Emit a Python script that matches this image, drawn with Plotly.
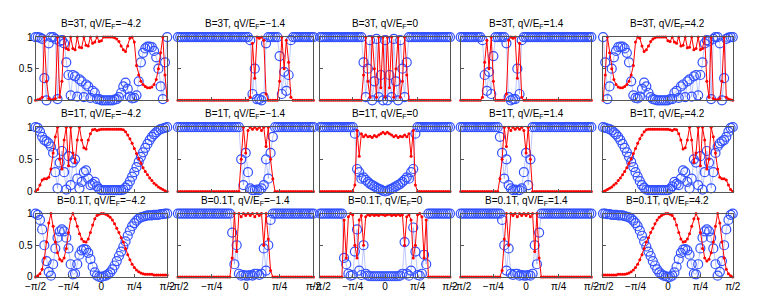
import plotly.graph_objects as go

# ---------------- data (angle in degrees) ----------------
angle_deg = [-90, -87, -84, -81, -78, -75, -72, -69, -66, -63,
             -60, -57, -54, -51, -48, -45, -42, -39, -36, -33,
             -30, -27, -24, -21, -18, -15, -12, -9, -6, -3,
             0, 3, 6, 9, 12, 15, 18, 21, 24, 27,
             30, 33, 36, 39, 42, 45, 48, 51, 54, 57,
             60, 63, 66, 69, 72, 75, 78, 81, 84, 87,
             90]

field_labels = ["3T", "1T", "0.1T"]
bias_labels = ["\u22124.2", "\u22121.4", "0", "1.4", "4.2"]
tick_vals = [-90, -45, 0, 45, 90]
tick_text = ["\u2212\u03c0/2", "\u2212\u03c0/4", "0", "\u03c0/4", "\u03c0/2"]

# B = 3T
red_3T_m42 = [0, .01, .02, .05, 1.0, .3, .03, .01, .01, .03,
              1.0, .05, .3, 1.0, .82, .8, 1.0, .82, .8, 1.0,
              .84, .83, 1.0, .87, .86, 1.0, .9, .92, 1.0, .93,
              .94, 1.0, 1.0, 1.0, 1.0, 1.0, .99, .97, .93, .86,
              .8, .77, .86, .98, 1.0, .92, .55, .4, .3, .25,
              .22, .2, .2, .21, .25, .33, .5, .75, 1.0, .4,
              0]
blue_3T_m42 = [1, 1, .99, .97, .35, 0, .9, 1, 1, .97,
               .02, .93, .95, .9, .6, .4, .08, .4, .38, .06,
               .33, .3, .05, .25, .22, .04, .15, .12, .02, .02,
               0, 0, 0, 0, 0, 0, .01, .02, .05, .12,
               .22, .28, .18, .06, .03, .04, .08, .3, .6, .75,
               .82, .85, .85, .84, .78, .68, .5, .22, .02, .6,
               1]
red_3T_m14 = [0, 0, 0, 0, 0, 0, 0, 0, 0, 0,
              0, 0, 0, 0, 0, 0, 0, 0, 0, 0,
              0, 0, 0, 0, 0, 0, 0, 0, 0, 0,
              0, 0, .05, .9, .35, 1.0, .98, 1.0, .95, .1,
              0, 0, 0, 0, 0, .3, 1.0, .5, .95, .6,
              .05, 0, 0, 0, 0, 0, 0, 0, 0, 0,
              0]
blue_3T_m14 = [1, 1, 1, 1, 1, 1, 1, 1, 1, 1,
               1, 1, 1, 1, 1, 1, 1, 1, 1, 1,
               1, 1, 1, 1, 1, 1, 1, 1, 1, 1,
               1, 1, .95, .1, .5, .02, .02, 0, .05, .9,
               1, 1, 1, 1, 1, .7, .1, .45, .15, .4,
               .95, 1, 1, 1, 1, 1, 1, 1, 1, 1,
               1]
red_3T_0 = [0, 0, 0, 0, 0, 0, 0, 0, 0, 0,
            0, 0, 0, 0, 0, 0, 0, 0, 0, 0,
            .4, 1.0, .3, .05, 1.0, .5, .05, 1.0, .2, 1.0,
            .05, 1.0, .2, 1.0, .05, .5, 1.0, .05, .3, 1.0,
            .4, 0, 0, 0, 0, 0, 0, 0, 0, 0,
            0, 0, 0, 0, 0, 0, 0, 0, 0, 0,
            0]
blue_3T_0 = [1, 1, 1, 1, 1, 1, 1, 1, 1, 1,
             1, 1, 1, 1, 1, 1, 1, 1, 1, 1,
             .6, .05, .5, .95, 0, .3, .97, .05, .4, 0,
             .95, 0, .4, .05, .97, .3, 0, .95, .5, .05,
             .6, 1, 1, 1, 1, 1, 1, 1, 1, 1,
             1, 1, 1, 1, 1, 1, 1, 1, 1, 1,
             1]
red_3T_p14 = [0, 0, 0, 0, 0, 0, 0, 0, 0, 0,
              .05, .6, .95, .5, 1.0, .3, 0, 0, 0, 0,
              0, .1, .95, 1.0, .98, 1.0, .35, .9, .05, 0,
              0, 0, 0, 0, 0, 0, 0, 0, 0, 0,
              0, 0, 0, 0, 0, 0, 0, 0, 0, 0,
              0, 0, 0, 0, 0, 0, 0, 0, 0, 0,
              0]
blue_3T_p14 = [1, 1, 1, 1, 1, 1, 1, 1, 1, 1,
               .95, .4, .15, .45, .1, .7, 1, 1, 1, 1,
               1, .9, .05, 0, .02, .02, .5, .1, .95, 1,
               1, 1, 1, 1, 1, 1, 1, 1, 1, 1,
               1, 1, 1, 1, 1, 1, 1, 1, 1, 1,
               1, 1, 1, 1, 1, 1, 1, 1, 1, 1,
               1]
red_3T_p42 = [0, .4, 1.0, .75, .5, .33, .25, .21, .2, .2,
              .22, .25, .3, .4, .55, .92, 1.0, .98, .86, .77,
              .8, .86, .93, .97, .99, 1.0, 1.0, 1.0, 1.0, 1.0,
              .94, .93, 1.0, .92, .9, 1.0, .86, .87, 1.0, .83,
              .84, 1.0, .8, .82, 1.0, .8, .82, 1.0, .3, .05,
              1.0, .03, .01, .01, .03, .3, 1.0, .05, .02, .01,
              0]
blue_3T_p42 = [1, .6, .02, .22, .5, .68, .78, .84, .85, .85,
               .82, .75, .6, .3, .08, .04, .03, .06, .18, .28,
               .22, .12, .05, .02, .01, 0, 0, 0, 0, 0,
               0, .02, .02, .12, .15, .04, .22, .25, .05, .3,
               .33, .06, .38, .4, .08, .4, .6, .9, .95, .93,
               .02, .97, 1, 1, .9, 0, .35, .97, .99, 1,
               1]

# B = 1T
red_1T_m42 = [0, .03, .1, .18, .2, .2, .22, .35, .6, .85,
              1.0, .5, .35, .8, 1.0, .4, 1.0, .6, .45, .8,
              1.0, .8, .68, .66, .8, .9, .96, .97, .95, .96,
              .97, .97, .97, .97, .97, .97, .97, .97, .97, .97,
              .96, .93, .88, .82, .75, .67, .59, .51, .44, .37,
              .31, .26, .21, .17, .13, .1, .07, .05, .03, .01,
              0]
blue_1T_m42 = [1, .99, .93, .85, .8, .78, .75, .7, .6, .3,
               .05, .45, .63, .3, .03, .55, .1, .45, .5, .2,
               .05, .15, .3, .33, .2, .1, .12, .15, .08, .04,
               .02, .02, .02, .02, .02, .02, .02, .02, .02, .02,
               .03, .06, .1, .16, .23, .3, .38, .46, .54, .61,
               .68, .74, .8, .85, .89, .92, .95, .97, .98, .99,
               1]
red_1T_m14 = [0, 0, 0, 0, 0, 0, 0, 0, 0, 0,
              0, 0, 0, 0, 0, 0, 0, 0, 0, 0,
              0, 0, 0, 0, 0, 0, 0, 0, .5, 1.0,
              .6, .95, 1.0, .97, 1.0, .97, 1.0, .95, 1.0, .7,
              1.0, .5, .2, 0, 0, 0, 0, 0, 0, 0,
              0, 0, 0, 0, 0, 0, 0, 0, 0, 0,
              0]
blue_1T_m14 = [1, 1, 1, 1, 1, 1, 1, 1, 1, 1,
               1, 1, 1, 1, 1, 1, 1, 1, 1, 1,
               1, 1, 1, 1, 1, 1, 1, 1, .5, .1,
               .6, .3, .05, .02, .02, .03, .02, .05, .1, .5,
               .2, .6, .85, 1, 1, 1, 1, 1, 1, 1,
               1, 1, 1, 1, 1, 1, 1, 1, 1, 1,
               1]
red_1T_0 = [0, 0, 0, 0, 0, 0, 0, 0, 0, 0,
            0, 0, 0, 0, 0, 0, .1, .95, .55, .9,
            .85, .88, .85, .86, .84, .87, .85, .88, .9, .92,
            .9, .92, .9, .88, .85, .87, .84, .86, .85, .88,
            .85, .9, .55, .95, .1, 0, 0, 0, 0, 0,
            0, 0, 0, 0, 0, 0, 0, 0, 0, 0,
            0]
blue_1T_0 = [1, 1, 1, 1, 1, 1, 1, 1, 1, 1,
             1, 1, 1, 1, 1, 1, .9, .35, .3, .2,
             .22, .18, .15, .12, .1, .08, .06, .04, .03, .01,
             0, .01, .03, .04, .06, .08, .1, .12, .15, .18,
             .22, .2, .3, .35, .9, 1, 1, 1, 1, 1,
             1, 1, 1, 1, 1, 1, 1, 1, 1, 1,
             1]
red_1T_p14 = [0, 0, 0, 0, 0, 0, 0, 0, 0, 0,
              0, 0, 0, 0, 0, 0, 0, 0, .2, .5,
              1.0, .7, 1.0, .95, 1.0, .97, 1.0, .97, 1.0, .95,
              .6, 1.0, .5, 0, 0, 0, 0, 0, 0, 0,
              0, 0, 0, 0, 0, 0, 0, 0, 0, 0,
              0, 0, 0, 0, 0, 0, 0, 0, 0, 0,
              0]
blue_1T_p14 = [1, 1, 1, 1, 1, 1, 1, 1, 1, 1,
               1, 1, 1, 1, 1, 1, 1, 1, .85, .6,
               .2, .5, .1, .05, .02, .03, .02, .02, .05, .3,
               .6, .1, .5, 1, 1, 1, 1, 1, 1, 1,
               1, 1, 1, 1, 1, 1, 1, 1, 1, 1,
               1, 1, 1, 1, 1, 1, 1, 1, 1, 1,
               1]
red_1T_p42 = [0, .01, .03, .05, .07, .1, .13, .17, .21, .26,
              .31, .37, .44, .51, .59, .67, .75, .82, .88, .93,
              .96, .97, .97, .97, .97, .97, .97, .97, .97, .97,
              .97, .96, .95, .97, .96, .9, .8, .66, .68, .8,
              1.0, .8, .45, .6, 1.0, .4, 1.0, .8, .35, .5,
              1.0, .85, .6, .35, .22, .2, .2, .18, .1, .03,
              0]
blue_1T_p42 = [1, .99, .98, .97, .95, .92, .89, .85, .8, .74,
               .68, .61, .54, .46, .38, .3, .23, .16, .1, .06,
               .03, .02, .02, .02, .02, .02, .02, .02, .02, .02,
               .02, .04, .08, .15, .12, .1, .2, .33, .3, .15,
               .05, .2, .5, .45, .1, .55, .03, .3, .63, .45,
               .05, .3, .6, .7, .75, .78, .8, .85, .93, .99,
               1]

# B = 0.1T
red_01T_m42 = [0, .02, .05, .12, .3, .55, .85, 1.0, .8, .55,
               .38, .28, .25, .3, .45, .7, .92, 1.0, .92, .8,
               .68, .6, .56, .55, .6, .7, .82, .92, .97, .99,
               1.0, 1.0, .99, .97, .94, .9, .84, .77, .7, .62,
               .55, .45, .35, .27, .2, .15, .11, .08, .06, .05,
               .04, .04, .04, .04, .03, .03, .03, .03, .03, .03,
               .03]
blue_01T_m42 = [1, .98, .9, .75, .5, .25, .08, .02, .2, .45,
                .62, .72, .75, .72, .62, .45, .2, .04, .05, .2,
                .35, .42, .44, .43, .38, .28, .16, .07, .02, 0,
                0, .01, .02, .04, .07, .12, .18, .25, .33, .4,
                .48, .56, .65, .73, .8, .85, .89, .92, .94, .95,
                .96, .97, .97, .97, .98, .98, .98, .99, .99, 1,
                1]
red_01T_m14 = [0, 0, 0, 0, 0, 0, 0, 0, 0, 0,
               0, 0, 0, 0, 0, 0, 0, 0, 0, 0,
               0, 0, 0, 0, .3, 1.0, .4, 1.0, .95, 1.0,
               .97, 1.0, .97, 1.0, .95, 1.0, .97, 1.0, .5, 1.0,
               .6, .1, 0, 0, 0, 0, 0, 0, 0, 0,
               0, 0, 0, 0, 0, 0, 0, 0, 0, 0,
               0]
blue_01T_m14 = [1, 1, 1, 1, 1, 1, 1, 1, 1, 1,
                1, 1, 1, 1, 1, 1, 1, 1, 1, 1,
                1, 1, 1, 1, .7, .2, .5, .05, .02, .03,
                .02, .02, .03, .02, .05, .05, .03, .05, .45, .1,
                .5, .9, 1, 1, 1, 1, 1, 1, 1, 1,
                1, 1, 1, 1, 1, 1, 1, 1, 1, 1,
                1]
red_01T_0 = [0, 0, 0, 0, 0, 0, 0, 0, 0, 0,
             0, .9, .3, .95, 1.0, .98, .5, .3, .9, .97,
             .5, .95, .98, .97, .99, .97, .98, .97, .99, .98,
             .97, .98, .99, .97, .98, .97, .99, .97, .98, .5,
             .95, .98, .9, .3, .5, .98, 1.0, .95, .3, .9,
             0, 0, 0, 0, 0, 0, 0, 0, 0, 0,
             0]
blue_01T_0 = [1, 1, 1, 1, 1, 1, 1, 1, 1, 1,
              1, .3, .2, .05, .02, .03, .4, .75, .1, .03,
              .5, .05, .02, .01, .01, .01, .01, .01, .01, .01,
              .01, .01, .01, .01, .01, .01, .01, .02, .05, .55,
              .05, .02, .1, .78, .4, .03, .02, .05, .35, .2,
              1, 1, 1, 1, 1, 1, 1, 1, 1, 1,
              1]
red_01T_p14 = [0, 0, 0, 0, 0, 0, 0, 0, 0, 0,
               0, 0, 0, 0, 0, 0, 0, 0, 0, .1,
               .6, 1.0, .5, 1.0, .97, 1.0, .95, 1.0, .97, 1.0,
               .97, 1.0, .95, 1.0, .4, 1.0, .3, 0, 0, 0,
               0, 0, 0, 0, 0, 0, 0, 0, 0, 0,
               0, 0, 0, 0, 0, 0, 0, 0, 0, 0,
               0]
blue_01T_p14 = [1, 1, 1, 1, 1, 1, 1, 1, 1, 1,
                1, 1, 1, 1, 1, 1, 1, 1, 1, .9,
                .5, .1, .45, .05, .03, .05, .05, .02, .03, .02,
                .02, .03, .02, .05, .5, .2, .7, 1, 1, 1,
                1, 1, 1, 1, 1, 1, 1, 1, 1, 1,
                1, 1, 1, 1, 1, 1, 1, 1, 1, 1,
                1]
red_01T_p42 = [.03, .03, .03, .03, .03, .03, .03, .04, .04, .04,
               .04, .05, .06, .08, .11, .15, .2, .27, .35, .45,
               .55, .62, .7, .77, .84, .9, .94, .97, .99, 1.0,
               1.0, .99, .97, .92, .82, .7, .6, .55, .56, .6,
               .68, .8, .92, 1.0, .92, .7, .45, .3, .25, .28,
               .38, .55, .8, 1.0, .85, .55, .3, .12, .05, .02,
               0]
blue_01T_p42 = [1, 1, .99, .99, .98, .98, .98, .97, .97, .97,
                .96, .95, .94, .92, .89, .85, .8, .73, .65, .56,
                .48, .4, .33, .25, .18, .12, .07, .04, .02, .01,
                0, 0, .02, .07, .16, .28, .38, .43, .44, .42,
                .35, .2, .05, .04, .2, .45, .62, .72, .75, .72,
                .62, .45, .2, .02, .08, .25, .5, .75, .9, .98,
                1]

panel_data = [
    [(red_3T_m42, blue_3T_m42), (red_3T_m14, blue_3T_m14), (red_3T_0, blue_3T_0),
     (red_3T_p14, blue_3T_p14), (red_3T_p42, blue_3T_p42)],
    [(red_1T_m42, blue_1T_m42), (red_1T_m14, blue_1T_m14), (red_1T_0, blue_1T_0),
     (red_1T_p14, blue_1T_p14), (red_1T_p42, blue_1T_p42)],
    [(red_01T_m42, blue_01T_m42), (red_01T_m14, blue_01T_m14), (red_01T_0, blue_01T_0),
     (red_01T_p14, blue_01T_p14), (red_01T_p42, blue_01T_p42)],
]

# ---------------- layout (pixels) ----------------
W, H = 763, 296
col_px = [(17, 152), (163, 302), (309, 442), (453, 587), (599, 732)]
row_px = [(24, 90), (118, 185), (208, 274)]
title_y_px = [10, 104, 195]
FONT = "Liberation Sans, Arial, sans-serif"
BLUE = "rgb(50,80,255)"

fig = go.Figure()
layout_axes = {}
annotations = []

for r in range(3):
    for c in range(5):
        k = r * 5 + c + 1
        xname = "x" if k == 1 else f"x{k}"
        yname = "y" if k == 1 else f"y{k}"
        red, blue = panel_data[r][c]
        fig.add_trace(go.Scatter(
            x=angle_deg, y=blue, xaxis=xname, yaxis=yname,
            mode="lines+markers", cliponaxis=False, showlegend=False,
            line=dict(color="rgba(70,100,255,0.45)", width=0.8),
            marker=dict(symbol="circle-open", size=9, color=BLUE,
                        line=dict(width=1.2, color=BLUE)),
        ))
        fig.add_trace(go.Scatter(
            x=angle_deg, y=red, xaxis=xname, yaxis=yname,
            mode="lines+markers", cliponaxis=False, showlegend=False,
            line=dict(color="rgb(255,0,0)", width=1.0),
            marker=dict(symbol="circle", size=3, color="rgb(255,0,0)"),
        ))
        x0, x1 = col_px[c]
        y0, y1 = row_px[r]
        xkey = "xaxis" if k == 1 else f"xaxis{k}"
        ykey = "yaxis" if k == 1 else f"yaxis{k}"
        layout_axes[xkey] = dict(
            domain=[x0 / W, x1 / W], range=[-90, 90], anchor=yname,
            showline=True, mirror=True, linecolor="#555", linewidth=1,
            ticks="inside", ticklen=3, tickcolor="#555",
            tickvals=tick_vals, ticktext=tick_text,
            showticklabels=(r == 2), showgrid=False, zeroline=False,
            tickfont=dict(family=FONT, size=10, color="black"),
        )
        layout_axes[ykey] = dict(
            domain=[1 - y1 / H, 1 - y0 / H], range=[0, 1], anchor=xname,
            showline=True, mirror=True, linecolor="#555", linewidth=1,
            ticks="inside", ticklen=3, tickcolor="#555",
            tickvals=[0, 0.5, 1], ticktext=["0", "0.5", "1"],
            showticklabels=(c == 0), showgrid=False, zeroline=False,
            tickfont=dict(family=FONT, size=10, color="black"),
        )
        annotations.append(dict(
            text=f"B={field_labels[r]}, qV/E<sub>F</sub>={bias_labels[c]}",
            x=(x0 + x1) / 2 / W, y=1 - title_y_px[r] / H,
            xref="paper", yref="paper", xanchor="center", yanchor="middle",
            showarrow=False, font=dict(family=FONT, size=10, color="black"),
        ))

fig.update_layout(
    width=W, height=H, margin=dict(l=0, r=0, t=0, b=0),
    paper_bgcolor="white", plot_bgcolor="white",
    annotations=annotations, **layout_axes,
)

fig.write_html("out.html")
